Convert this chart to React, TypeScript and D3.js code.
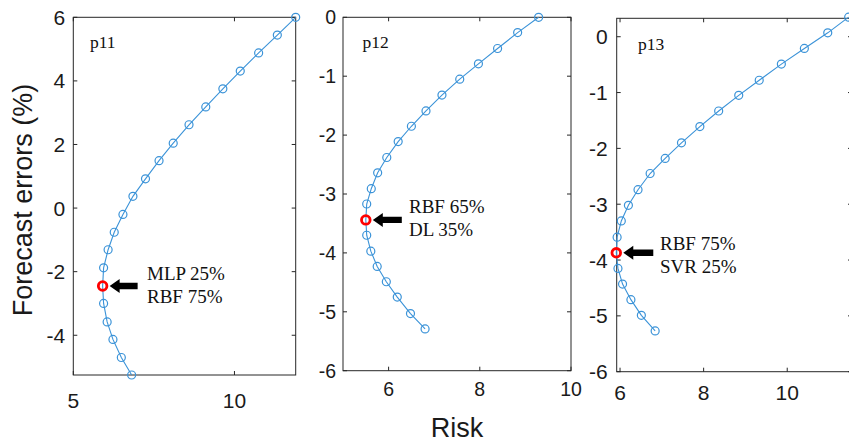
import React from "react";
import * as d3 from "d3";

// ---- data ----
const p11Risk = [11.90, 11.33, 10.75, 10.18, 9.64, 9.11, 8.59, 8.10, 7.66, 7.24, 6.85, 6.54, 6.27, 6.08, 5.94, 5.91, 5.94, 6.05, 6.23, 6.49, 6.81];
const p11Err = [6.00, 5.44, 4.88, 4.31, 3.75, 3.18, 2.62, 2.04, 1.49, 0.92, 0.37, -0.20, -0.76, -1.31, -1.88, -2.45, -3.00, -3.58, -4.13, -4.70, -5.25];
const p12Risk = [9.29, 8.83, 8.39, 7.97, 7.56, 7.17, 6.82, 6.50, 6.21, 5.96, 5.76, 5.62, 5.52, 5.50, 5.52, 5.61, 5.75, 5.95, 6.19, 6.48, 6.80];
const p12Err = [0.00, -0.26, -0.53, -0.79, -1.05, -1.32, -1.59, -1.85, -2.11, -2.38, -2.64, -2.91, -3.17, -3.44, -3.70, -3.97, -4.23, -4.49, -4.75, -5.03, -5.29];
const p13Risk = [11.47, 10.97, 10.41, 9.86, 9.33, 8.84, 8.36, 7.91, 7.47, 7.08, 6.72, 6.43, 6.20, 6.03, 5.93, 5.91, 5.95, 6.06, 6.26, 6.51, 6.84];
const p13Err = [0.35, 0.07, -0.21, -0.49, -0.78, -1.05, -1.33, -1.61, -1.90, -2.18, -2.45, -2.74, -3.02, -3.30, -3.59, -3.87, -4.15, -4.43, -4.71, -4.99, -5.27];

const panelNames = ["p11", "p12", "p13"];
const optimalIndex = [15, 13, 15];
const annotationLines = [
  ["MLP 25%", "RBF 75%"],
  ["RBF 65%", "DL 35%"],
  ["RBF 75%", "SVR 25%"],
];
const xTicks1 = [5, 10];
const xTicks23 = [6, 8, 10];
const yTicks1 = [-4, -2, 0, 2, 4, 6];
const yTicks23 = [-6, -5, -4, -3, -2, -1, 0];

const xLabel = "Risk";
const yLabel = "Forecast errors (%)";

// ---- layout ----
type Panel = {
  risk: number[];
  err: number[];
  xDomain: [number, number];
  yDomain: [number, number];
  left: number; right: number; top: number; bottom: number;
  xTicks: number[]; yTicks: number[];
  fs: number; xBase: number; yGap: number;
  nameX: number; nameY: number;
  textX: number; textY: number; lineH: number;
  arrowLen: number;
};

const panels: Panel[] = [
  { risk: p11Risk, err: p11Err, xDomain: [5, 11.9], yDomain: [-5.25, 6], left: 73.3, right: 295.7, top: 17.3, bottom: 375,
    xTicks: xTicks1, yTicks: yTicks1, fs: 21, xBase: 408, yGap: 8, nameX: 90, nameY: 48,
    textX: 147, textY: 280, lineH: 23, arrowLen: 28 },
  { risk: p12Risk, err: p12Err, xDomain: [5, 10], yDomain: [-6, 0], left: 343, right: 571, top: 17.3, bottom: 370.7,
    xTicks: xTicks23, yTicks: yTicks23, fs: 19.5, xBase: 396, yGap: 7, nameX: 362.5, nameY: 48,
    textX: 409, textY: 213, lineH: 23, arrowLen: 29 },
  { risk: p13Risk, err: p13Err, xDomain: [5.92, 11.55], yDomain: [-6, 0.33], left: 616.7, right: 852, top: 18.3, bottom: 371.7,
    xTicks: xTicks23, yTicks: yTicks23, fs: 21, xBase: 400, yGap: 9, nameX: 638, nameY: 50,
    textX: 660, textY: 250, lineH: 23, arrowLen: 30 },
];

const BLUE = "#3b93d8";
const AXIS = "#262626";
const SANS = "'Liberation Sans', Arial, sans-serif";
const SERIF = "'Liberation Serif', 'Times New Roman', serif";

function PanelView({ p, i }: { p: Panel; i: number }) {
  const x = d3.scaleLinear().domain(p.xDomain).range([p.left, p.right]);
  const y = d3.scaleLinear().domain(p.yDomain).range([p.bottom, p.top]);
  const pts: [number, number][] = p.risk.map((r, k) => [r, p.err[k]]);
  const line = d3.line<[number, number]>().x((d) => x(d[0])).y((d) => y(d[1]));
  const tl = 4;
  const opt = optimalIndex[i];
  const ox = x(p.risk[opt]);
  const oy = y(p.err[opt]);
  const tipX = ox + 7;
  const tailX = tipX + p.arrowLen;
  const headLen = 10;
  const headH = 7;
  const shaftH = 3.2;
  const arrowPath = `M${tipX},${oy} L${tipX + headLen},${oy - headH} L${tipX + headLen},${oy - shaftH} L${tailX},${oy - shaftH} L${tailX},${oy + shaftH} L${tipX + headLen},${oy + shaftH} L${tipX + headLen},${oy + headH} Z`;
  return (
    <g>
      <rect x={p.left} y={p.top} width={p.right - p.left} height={p.bottom - p.top} fill="white" stroke={AXIS} strokeWidth={1} />
      {p.xTicks.map((t) => (
        <g key={"x" + t}>
          <line x1={x(t)} x2={x(t)} y1={p.bottom} y2={p.bottom - tl} stroke={AXIS} />
          <line x1={x(t)} x2={x(t)} y1={p.top} y2={p.top + tl} stroke={AXIS} />
          <text x={x(t)} y={p.xBase} textAnchor="middle" fontFamily={SANS} fontSize={p.fs} fill="#1a1a1a">{t}</text>
        </g>
      ))}
      {p.yTicks.map((t) => (
        <g key={"y" + t}>
          <line x1={p.left} x2={p.left + tl} y1={y(t)} y2={y(t)} stroke={AXIS} />
          <line x1={p.right} x2={p.right - tl} y1={y(t)} y2={y(t)} stroke={AXIS} />
          <text x={p.left - p.yGap} y={y(t)} dy="0.36em" textAnchor="end" fontFamily={SANS} fontSize={p.fs} fill="#1a1a1a">{t}</text>
        </g>
      ))}
      <path d={line(pts) || ""} fill="none" stroke={BLUE} strokeWidth={1.1} />
      {pts.map((d, k) => (
        <circle key={k} cx={x(d[0])} cy={y(d[1])} r={4} fill="none" stroke={BLUE} strokeWidth={1.2} />
      ))}
      <circle cx={ox} cy={oy} r={4.3} fill="none" stroke="#ff0000" strokeWidth={2.8} />
      <path d={arrowPath} fill="black" />
      <text x={p.nameX} y={p.nameY} fontFamily={SERIF} fontSize={17.5} fill="#111">{panelNames[i]}</text>
      {annotationLines[i].map((s, k) => (
        <text key={k} x={p.textX} y={p.textY + k * p.lineH} fontFamily={SERIF} fontSize={19} fill="#111">{s}</text>
      ))}
    </g>
  );
}

export default function App() {
  return (
    <svg width={849} height={442} style={{ position: "absolute", left: 0, top: 0, background: "white" }}>
      <rect x={0} y={0} width={849} height={442} fill="white" />
      {panels.map((p, i) => (
        <PanelView key={i} p={p} i={i} />
      ))}
      <text x={457} y={437} textAnchor="middle" fontFamily={SANS} fontSize={27} fill="#1a1a1a">{xLabel}</text>
      <text transform="translate(32,200) rotate(-90)" textAnchor="middle" fontFamily={SANS} fontSize={27} fill="#1a1a1a">{yLabel}</text>
    </svg>
  );
}
